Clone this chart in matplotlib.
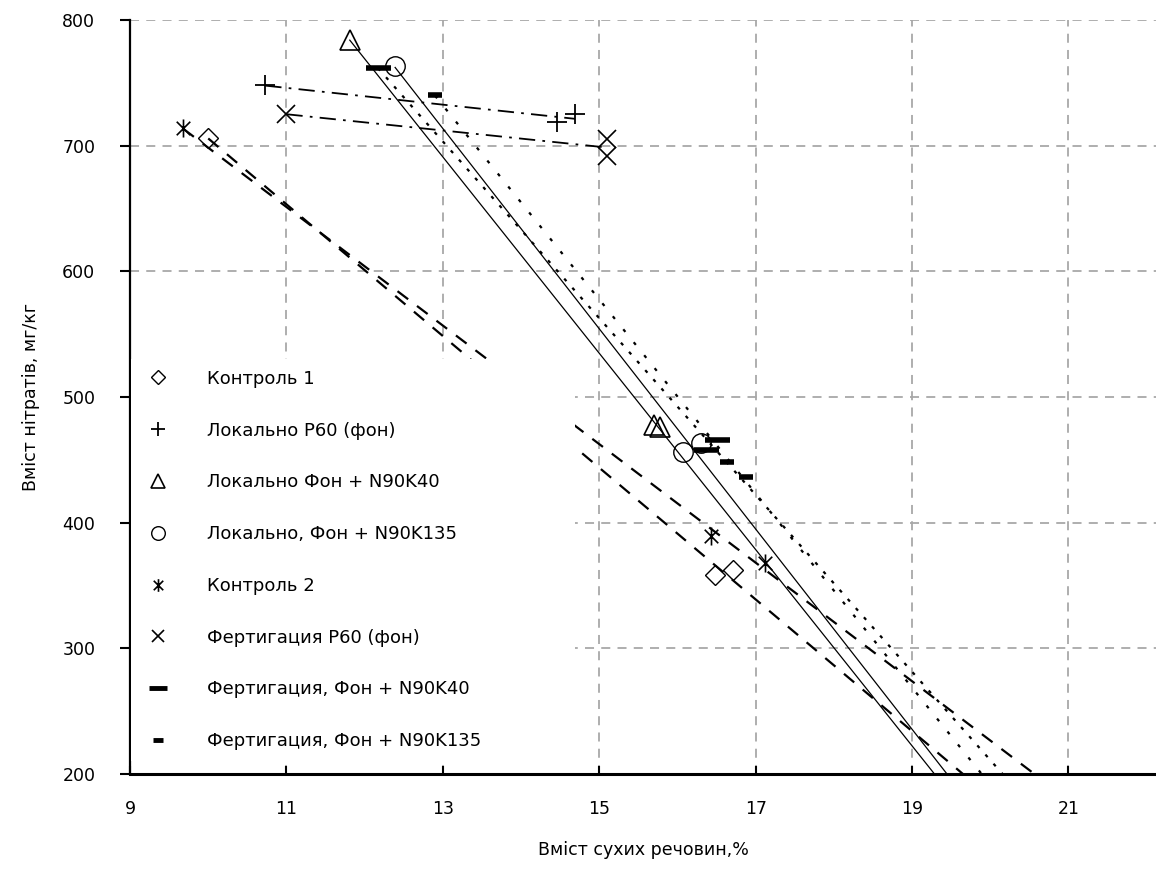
import numpy as np
import matplotlib
matplotlib.use("Agg")
import matplotlib.pyplot as plt
from matplotlib.path import Path
from matplotlib.lines import Line2D

plt.rcParams['font.family'] = ['DejaVu Sans']

# ---- data ----
labels = ["Контроль 1", "Локально P60 (фон)", "Локально Фон + N90K40",
          "Локально, Фон + N90K135", "Контроль 2", "Фертигация P60 (фон)",
          "Фертигация, Фон + N90K40", "Фертигация, Фон + N90K135"]

x_k1 = [10.0, 16.48, 16.71]
y_k1 = [706, 358, 362]
x_lp60 = [10.73, 14.46, 14.69]
y_lp60 = [748, 719, 725]
x_l40 = [11.81, 15.70, 15.78]
y_l40 = [784, 478, 476]
x_l135 = [12.39, 16.07, 16.30]
y_l135 = [763, 456, 463]
x_k2 = [9.68, 16.43, 17.12]
y_k2 = [714, 389, 368]
x_fp60 = [11.0, 15.1, 15.1]
y_fp60 = [725, 705, 692]
x_f40 = [12.17, 16.36, 16.50]
y_f40 = [762, 458, 466]
x_f135 = [12.9, 16.63, 16.88]
y_f135 = [740, 448, 436]

x_ticks = [9, 11, 13, 15, 17, 19, 21]
y_ticks = [200, 300, 400, 500, 600, 700, 800]

# custom asterisk marker (vertical bar + x)
ast = Path([(0, -1), (0, 1), (-0.75, -0.75), (0.75, 0.75), (-0.75, 0.75), (0.75, -0.75)],
           [Path.MOVETO, Path.LINETO, Path.MOVETO, Path.LINETO, Path.MOVETO, Path.LINETO])

series = [
    # x, y, marker, ms, mew, linestyle, lw, forecast
    (x_k1, y_k1, 'D', 10, 1.0, (0, (6, 5)), 1.6, True),
    (x_lp60, y_lp60, '+', 15, 1.3, (0, (9, 4, 1.5, 4)), 1.3, False),
    (x_l40, y_l40, '^', 15, 1.2, '-', 0.9, True),
    (x_l135, y_l135, 'o', 14, 1.0, '-', 0.9, True),
    (x_k2, y_k2, ast, 13, 1.2, (0, (6, 5)), 1.6, True),
    (x_fp60, y_fp60, 'x', 13, 1.2, (0, (9, 4, 1.5, 4)), 1.3, False),
    (x_f40, y_f40, '_', 18, 4.0, (0, (1.5, 4)), 1.6, True),
    (x_f135, y_f135, '_', 10, 4.0, (0, (1.5, 6)), 1.6, True),
]

fig = plt.figure(figsize=(11.56, 8.88), dpi=100)
ax = fig.add_axes([0.1125, 0.1284, 0.8875, 0.8491])
XMIN, XMAX, YMIN, YMAX = 9, 22.12, 200, 800
ax.set_xlim(XMIN, XMAX)
ax.set_ylim(YMIN, YMAX)

handles = []
for (xs, ys, mk, ms, mew, ls, lw, fc) in series:
    xs = np.asarray(xs, float)
    ys = np.asarray(ys, float)
    k, b = np.polyfit(xs, ys, 1)
    x0 = xs.min()
    x1 = (YMIN - 5 - b) / k if fc else xs.max()
    lx = np.array([x0, x1])
    ax.plot(lx, k * lx + b, color='black', linestyle=ls, linewidth=lw, zorder=3,
            dash_capstyle='butt')
    ax.plot(xs, ys, linestyle='none', marker=mk, markersize=ms, markeredgewidth=mew,
            markeredgecolor='black', markerfacecolor='none', zorder=4)
    handles.append(Line2D([], [], linestyle='none', marker=mk, markersize=ms * 0.7,
                          markeredgewidth=mew if mk != '_' else 3.5,
                          markeredgecolor='black', markerfacecolor='none'))

ax.set_xticks(x_ticks)
ax.set_yticks(y_ticks)
ax.grid(True, color='#a8a8a8', linestyle=(0, (5, 4)), linewidth=1.3, zorder=0)
ax.set_axisbelow(True)
for s in ['top', 'right']:
    ax.spines[s].set_visible(False)
ax.spines['left'].set_linewidth(1.6)
ax.spines['bottom'].set_linewidth(2.2)
ax.tick_params(axis='x', direction='in', length=6, width=1.5, pad=19, labelsize=12.5)
ax.tick_params(axis='y', direction='out', length=7, width=1.5, pad=18, labelsize=12.5)

ax.set_xlabel("Вміст сухих речовин,%", fontsize=12.5, labelpad=16)
ax.set_ylabel("Вміст нітратів, мг/кг", fontsize=12.5, labelpad=16)

leg = ax.legend(handles, labels, loc='upper left', bbox_to_anchor=(0.001, 0.016, 0.433, 0.5344),
                mode='expand', borderaxespad=0, frameon=True, facecolor='white',
                edgecolor='none', framealpha=1, fancybox=False, fontsize=13,
                handlelength=1.8, handletextpad=1.8, labelspacing=1.87, borderpad=0.6)
leg.set_zorder(5)

fig.savefig("out.png", dpi=100)
